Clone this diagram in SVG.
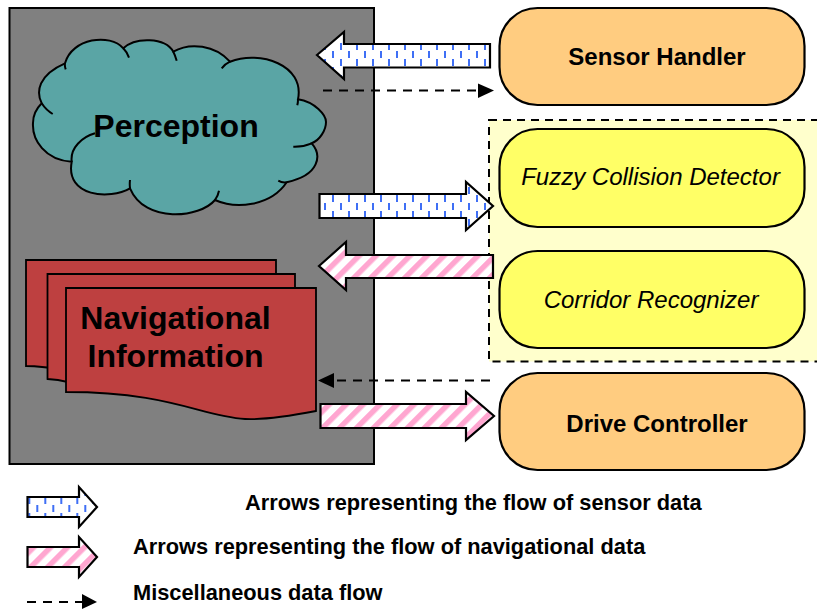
<svg xmlns="http://www.w3.org/2000/svg" width="817" height="611" viewBox="0 0 817 611">
<style>
text{font-family:"Liberation Sans",Arial,sans-serif;fill:#000}
.n{font-size:24px;font-weight:bold;text-anchor:middle}
.i{font-size:24px;font-style:italic;text-anchor:middle}
.h{font-size:32px;font-weight:bold;text-anchor:middle}
.l{font-size:21.800px;font-weight:bold}
.pill{stroke:#000;stroke-width:2.200}
.o{fill:#ffcc80}.y{fill:#ffff66}
.doc{fill:#be4040;stroke:#000;stroke-width:1.800}
.arr{stroke:#000;stroke-width:2.200;stroke-linejoin:miter}
.dash{stroke:#000;stroke-width:2;stroke-dasharray:9 7;fill:none}
.tick{fill:none;stroke:#000;stroke-width:2}
</style>
<defs>
<pattern id="blue" patternUnits="userSpaceOnUse" x="340" y="43" width="16" height="16"><rect width="16" height="16" fill="#fff"/><rect x="0" y="0" width="2" height="7" fill="#3f6ff5"/><rect x="8" y="8" width="2" height="7" fill="#3f6ff5"/></pattern>
<pattern id="blue2" patternUnits="userSpaceOnUse" x="44.300" y="497" width="16" height="16"><rect width="16" height="16" fill="#fff"/><rect x="0" y="0" width="2" height="7" fill="#3f6ff5"/><rect x="8" y="8" width="2" height="7" fill="#3f6ff5"/></pattern>
<pattern id="pink" patternUnits="userSpaceOnUse" width="12" height="12" patternTransform="rotate(45)"><rect width="12" height="12" fill="#fff"/><rect width="5.500" height="12" fill="#ffa6d0"/></pattern>
</defs>
<rect id="panel" x="9.500" y="8" width="364.500" height="456" fill="#808080" stroke="#000" stroke-width="2"/>
<g id="perception">
<path d="M71.700 161.700C45 160 32 140 33 123C33 115 37 108 41.700 103.300C36 92 38 75 65 63.300C72 38 110 33 123.300 48.300C135 37 165 37 173.300 51.700C190 42 215 45 230 61.700C260 50 305 65 298 99.300C315 102 326 115 326 122C326 130 320 140 311.700 143.300C322 155 320 175 286.700 182.300C270 207 235 209 215 200C200 218 145 224 130 188.300C110 200 65 197 71.700 161.700Z" fill="#5aa5a5" stroke="#000" stroke-width="2"/>
<path class="tick" d="M41.700 103.300Q46 110 52.700 114M65 63.300Q64.500 66 65.700 69.300M123.300 48.300Q127 52 129 57.700M173.300 51.700Q175 55 176.700 60.700M230 61.700Q225 64 221.700 68.300M298 99.300Q298 103 297.300 105.300M311.700 143.300Q303 147 293.300 146.700M286.700 182.300Q282 183 278.300 180.700M215 200Q218 196 219 190.700M130 188.300Q129.500 184 130 180M71.700 161.700C70 148 82 137 95 133.300"/>
<text class="h" x="176" y="137">Perception</text>
</g>
<g id="navigational-information">
<path class="doc" d="M26 260H276V375H80C65 369 45 366.500 26 366Z"/>
<path class="doc" d="M47.500 274H295V390H90C75 383 60 379.500 47.500 379Z"/>
<path class="doc" d="M66 288H316V411C290 416 265 420 245 419C200 416 170 392 66 392Z"/>
<text class="h" x="175.500" y="329">Navigational</text>
<text class="h" x="175.500" y="367">Information</text>
</g>
<g id="safety-group">
<rect x="489" y="120" width="340" height="241.500" fill="#ffffcc" stroke="#000" stroke-width="2" stroke-dasharray="8 6"/>
</g>
<g id="sensor-handler"><rect class="pill o" x="499.500" y="8" width="305" height="97" rx="38"/><text class="n" x="657" y="64.500">Sensor Handler</text></g>
<g id="fuzzy-collision-detector"><rect class="pill y" x="499.500" y="129" width="305" height="98" rx="38"/><text class="i" x="650.500" y="185">Fuzzy Collision Detector</text></g>
<g id="corridor-recognizer"><rect class="pill y" x="499.500" y="251" width="305" height="97" rx="38"/><text class="i" x="651" y="308">Corridor Recognizer</text></g>
<g id="drive-controller"><rect class="pill o" x="499.500" y="373" width="305" height="97" rx="38"/><text class="n" x="657" y="431.500">Drive Controller</text></g>
<g id="connectors">
<path class="arr" fill="url(#blue)" d="M317 55L344 32V44H490V67.500H344V79Z"/>
<path class="dash" d="M323 90.500H478"/><path d="M478 83.500L494 90.500L478 98Z"/>
<path class="arr" fill="url(#blue)" d="M319.500 194H466V182L493 206L466 230V218H319.500Z"/>
<path class="arr" fill="url(#pink)" d="M319 266L346 242V255H493V278H346V290Z"/>
<path class="dash" d="M490 380.500H334"/><path d="M334 373L318 380.500L334 388Z"/>
<path class="arr" fill="url(#pink)" d="M320.500 404H466V392L494 416L466 440V428H320.500Z"/>
</g>
<g id="legend">
<path class="arr" fill="url(#blue2)" d="M27.500 497H79V487L97 507L79 527V517H27.500Z"/>
<path class="arr" fill="url(#pink)" d="M27.500 547H79V537L97 557L79 577V567H27.500Z"/>
<path class="dash" d="M27 602H82"/><path d="M82 594L97 602L82 609Z"/>
<text class="l" x="245" y="509.500">Arrows representing the flow of sensor data</text>
<text class="l" x="133" y="553.500">Arrows representing the flow of navigational data</text>
<text class="l" x="133" y="599.500">Miscellaneous data flow</text>
</g>
</svg>
